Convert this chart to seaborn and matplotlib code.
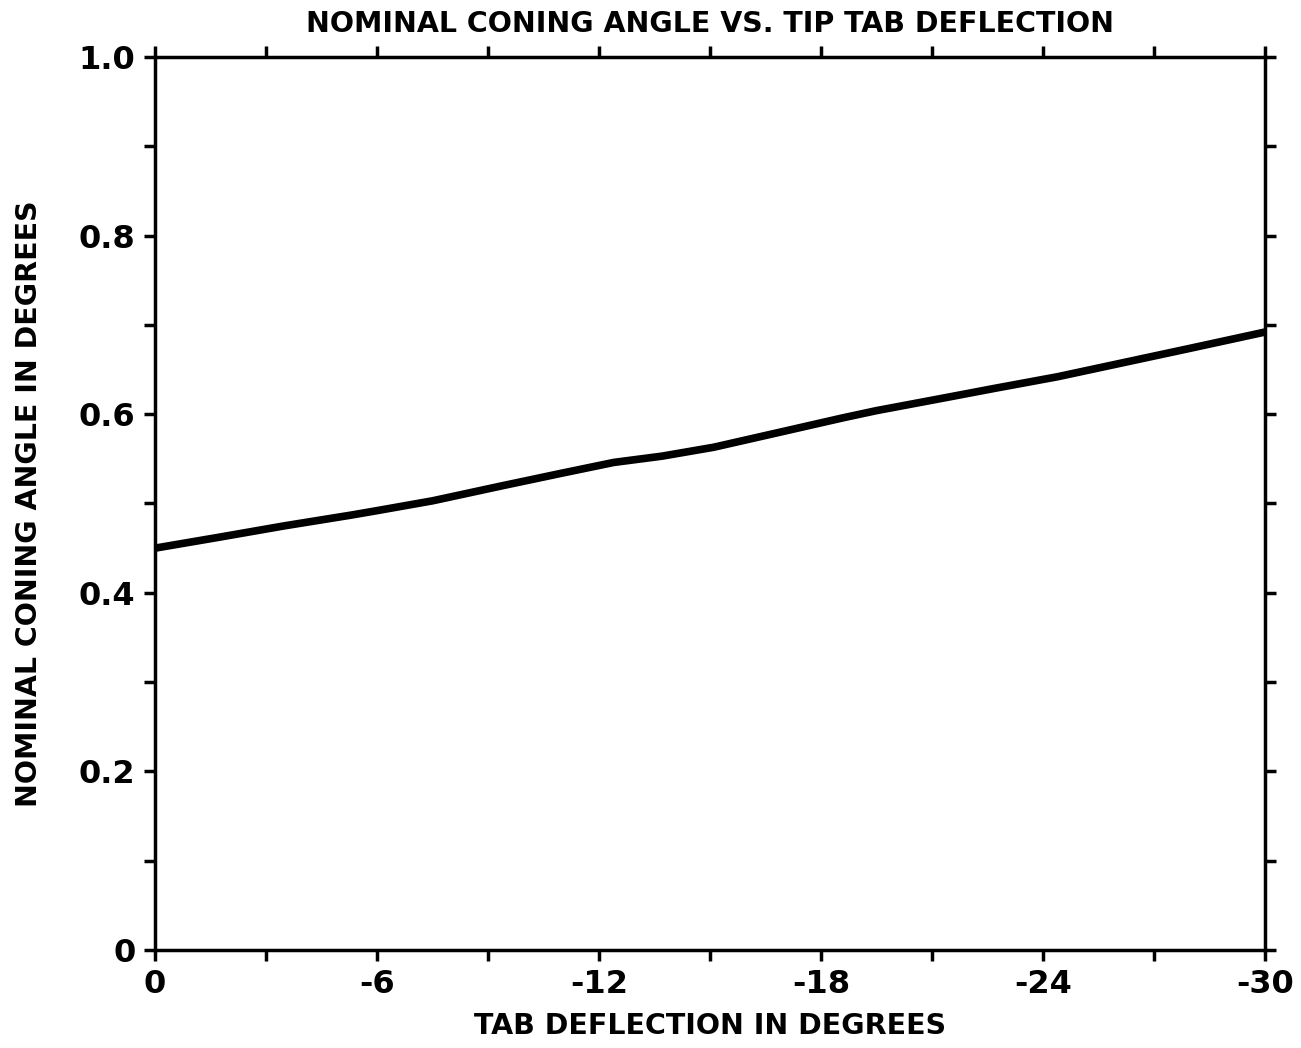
import numpy as np
import pandas as pd
import matplotlib
matplotlib.use("Agg")
import matplotlib.pyplot as plt
import seaborn as sns

tab_deflection = [0, -1.7, -3.5, -5.3, -6.0, -7.5, -9.4, -11.0, -12.4, -13.7,
                  -15.1, -16.8, -18.6, -19.5, -21.3, -22.7, -24.4, -26.2,
                  -28.0, -30.0]
coning_angle = [0.450, 0.462, 0.475, 0.487, 0.492, 0.503, 0.520, 0.534, 0.546,
                0.553, 0.563, 0.579, 0.596, 0.604, 0.618, 0.629, 0.642, 0.658,
                0.674, 0.692]
x_ticks = [0, -6, -12, -18, -24, -30]
x_tick_labels = ["0", "-6", "-12", "-18", "-24", "-30"]
y_ticks = [0, 0.2, 0.4, 0.6, 0.8, 1.0]
y_tick_labels = ["0", "0.2", "0.4", "0.6", "0.8", "1.0"]

df = pd.DataFrame({"x": tab_deflection, "y": coning_angle})

sns.set_style("ticks")
plt.rcParams["font.family"] = ["DejaVu Sans"]
plt.rcParams["font.weight"] = "bold"
plt.rcParams["text.color"] = "black"
plt.rcParams["axes.labelcolor"] = "black"

fig = plt.figure(figsize=(13.01, 10.48), dpi=100)
ax = fig.add_axes([155 / 1301, 1 - 950 / 1048, 1110 / 1301, 893 / 1048])

sns.lineplot(data=df, x="x", y="y", ax=ax, color="black", linewidth=5.5)

ax.set_xlim(0, -30)
ax.set_ylim(0, 1.0)
ax.set_xticks(x_ticks)
ax.set_xticklabels(x_tick_labels)
ax.set_xticks(np.arange(-3, -30, -6), minor=True)
ax.set_yticks(y_ticks)
ax.set_yticklabels(y_tick_labels)
ax.set_yticks(np.arange(0.1, 1.0, 0.2), minor=True)

for s in ax.spines.values():
    s.set_visible(True)
    s.set_linewidth(2.5)
    s.set_color("black")

ax.tick_params(axis="both", which="both", direction="out", length=8, width=2.5,
               top=True, right=True, labeltop=False, labelright=False,
               colors="black")
ax.tick_params(axis="both", which="major", labelsize=23, pad=6)
for lbl in ax.get_xticklabels() + ax.get_yticklabels():
    lbl.set_fontweight("bold")

ax.set_xlabel("TAB DEFLECTION IN DEGREES", fontsize=20.5, fontweight="bold",
              labelpad=8, color="black")
ax.set_ylabel("NOMINAL CONING ANGLE IN DEGREES", fontsize=20.5, fontweight="bold",
              labelpad=26, color="black")
ax.set_title("NOMINAL CONING ANGLE VS. TIP TAB DEFLECTION", fontsize=20.5,
             fontweight="bold", pad=18, color="black")

fig.savefig("out.png", dpi=100, facecolor="white")
